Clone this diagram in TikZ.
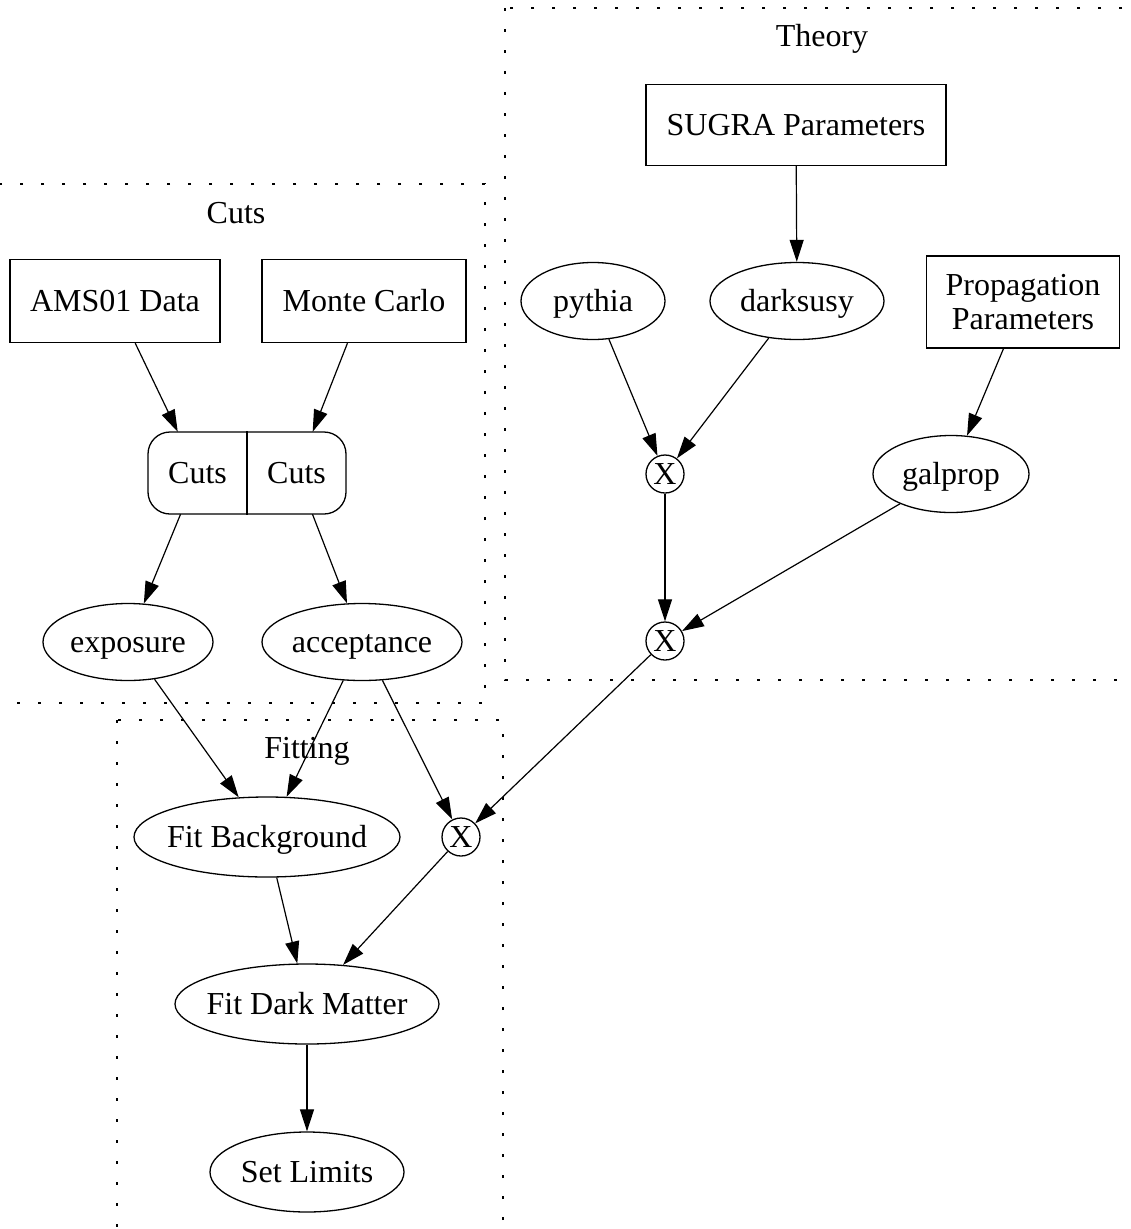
\documentclass[tikz,border=0pt]{standalone}
\usepackage{fontspec}
\setmainfont{Liberation Serif}
\usetikzlibrary{arrows.meta,shapes.geometric}
\newcommand{\zbx}[1]{\makebox[0pt]{#1}}
\begin{document}
\begin{tikzpicture}[x=1pt,y=-1pt,
  every node/.style={font=\fontsize{32}{37}\selectfont, text=black},
  tx/.style={text height=24pt, text depth=4pt},
  box/.style={draw, line width=1.3pt, rectangle, inner sep=0pt},
  ell/.style={draw, line width=1.3pt, ellipse, inner sep=0pt, minimum height=77pt, tx},
  mult/.style={draw, line width=1.3pt, circle, inner sep=0pt, minimum size=38pt, text height=22pt, text depth=2pt},
  field/.style={rectangle, inner sep=0pt, minimum width=99pt, minimum height=82pt, tx},
  cluster/.style={line width=2pt, dash pattern=on 3pt off 18pt},
  edge/.style={line width=1.2pt, -{Triangle[length=22pt,width=14pt]}},
  lbl/.style={inner sep=0pt, tx}
]
\useasboundingbox (0,0) rectangle (1130,1229);
\fill[white] (0,0) rectangle (1130,1229);
\begin{scope}
\clip (0,0) rectangle (1130,1229);
% clusters
\draw[cluster] (505,8) rectangle (1160,680);
\draw[cluster] (-10,184) rectangle (485,703);
\draw[cluster] (117,720) rectangle (503,1260);
\end{scope}
\node[lbl] (tTheory) at (822,36) {Theory};
\node[lbl] (tCuts) at (236,213) {Cuts};
\node[lbl] (tFitting) at (307,748) {Fitting};

% Cuts cluster
\node[box, tx, minimum width=210pt, minimum height=83pt] (ams) at (115,301) {AMS01 Data};
\node[box, tx, minimum width=204pt, minimum height=83pt] (mc) at (364,301) {Monte Carlo};
\node[draw, line width=1.3pt, rectangle, rounded corners=22pt, minimum width=198pt, minimum height=82pt, inner sep=0pt] (cuts) at (247,473) {};
\node[field] (cutsL) at (197.5,473) {Cuts};
\node[field] (cutsR) at (296.5,473) {Cuts};
\draw[line width=1.3pt] (cuts.north) -- (cuts.south);
\node[ell, minimum width=170pt] (exp) at (128,642) {\zbx{exposure}};
\node[ell, minimum width=200pt] (acc) at (362,642) {\zbx{acceptance}};

% Theory cluster
\node[box, tx, minimum width=300pt, minimum height=81pt] (sugra) at (796,125) {SUGRA Parameters};
\node[ell, minimum width=144pt] (pythia) at (593,301) {\zbx{pythia}};
\node[ell, minimum width=174pt] (dsusy) at (797,301) {\zbx{darksusy}};
\node[box, minimum width=193pt, minimum height=92pt, align=center] (prop) at (1023,302) {Propagation\\[-3pt]Parameters};
\node[mult] (x1) at (665,474) {X};
\node[ell, minimum width=156pt] (galprop) at (951,474) {\zbx{galprop}};
\node[mult] (x2) at (665,641) {X};

% Fitting cluster
\node[ell, minimum width=266pt, minimum height=80pt] (fitbg) at (267,837) {\zbx{Fit Background}};
\node[mult] (x3) at (461,837) {X};
\node[ell, minimum width=264pt, minimum height=80pt] (fitdm) at (307,1004) {\zbx{Fit Dark Matter}};
\node[ell, minimum width=194pt, minimum height=80pt] (limits) at (307,1172) {\zbx{Set Limits}};

% edges
\draw[edge] (ams) -- (cutsL);
\draw[edge] (mc) -- (cutsR);
\draw[edge] (cutsL) -- (exp);
\draw[edge] (cutsR) -- (acc);
\draw[edge] (exp) -- (fitbg);
\draw[edge] (acc) -- (fitbg);
\draw[edge] (acc.-62) -- (x3);
\draw[edge] (sugra) -- (dsusy);
\draw[edge] (pythia) -- (x1);
\draw[edge] (dsusy) -- (x1);
\draw[edge] (prop) -- (galprop);
\draw[edge] (x1) -- (x2);
\draw[edge] (galprop) -- (x2);
\draw[edge] (x2) -- (x3);
\draw[edge] (x3) -- (fitdm);
\draw[edge] (fitbg) -- (fitdm);
\draw[edge] (fitdm) -- (limits);
\end{tikzpicture}
\end{document}
